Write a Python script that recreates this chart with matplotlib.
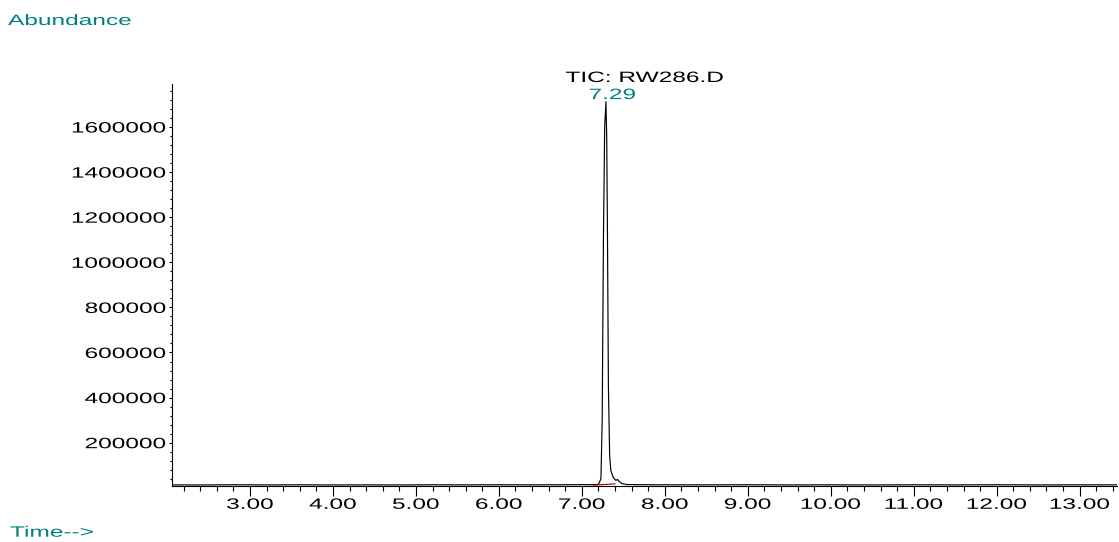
import matplotlib
matplotlib.use("Agg")
import matplotlib.pyplot as plt
from matplotlib.patheffects import AbstractPathEffect
from matplotlib.transforms import Affine2D
from matplotlib.ticker import MultipleLocator

# Total ion chromatogram: retention time (min) and abundance
rt = [2.06, 2.40, 2.80, 3.20, 3.60, 4.00, 4.40, 4.80, 5.20, 5.60, 6.00, 6.40,
      6.80, 7.00, 7.14, 7.20, 7.23, 7.245, 7.26, 7.275, 7.29, 7.30, 7.31,
      7.32, 7.335, 7.35, 7.38, 7.41, 7.43, 7.45, 7.48, 7.54, 7.70, 8.00, 8.50,
      9.00, 9.50, 10.00, 10.50, 11.00, 11.50, 12.00, 12.50, 13.00, 13.45]
abundance = [13000, 12500, 13500, 12800, 13200, 12600, 13000, 12700, 13300,
             12900, 13400, 13000, 13600, 13800, 14000, 15000, 40000, 300000,
             1100000, 1600000, 1712000, 1550000, 1050000, 450000, 140000,
             75000, 45000, 33000, 37000, 28000, 19000, 14500, 13800, 13200,
             13000, 13500, 12800, 13100, 12700, 13200, 12900, 13400, 12800,
             13100, 13000]

# Integration baseline under the main peak
int_rt = [7.14, 7.40]
int_abundance = [11500, 17500]

peak_rt = 7.29
peak_label = "7.29"
title = "TIC: RW286.D"

x_major = [3, 4, 5, 6, 7, 8, 9, 10, 11, 12, 13]
x_labels = ["3.00", "4.00", "5.00", "6.00", "7.00", "8.00", "9.00",
            "10.00", "11.00", "12.00", "13.00"]
y_major = [200000, 400000, 600000, 800000, 1000000, 1200000, 1400000, 1600000]
y_labels = ["200000", "400000", "600000", "800000", "1000000", "1200000",
            "1400000", "1600000"]

TEAL = "#008080"
FONT = "Liberation Sans"
FS = 10.8
WIDEN = 1.63


class WideText(AbstractPathEffect):
    """Draw glyph outlines widened horizontally about a chosen anchor."""

    def __init__(self, sx, anchor="left"):
        super().__init__()
        self.sx = sx
        self.anchor = anchor

    def draw_path(self, renderer, gc, tpath, affine, rgbFace=None):
        if len(tpath.vertices) == 0:
            return
        ext = tpath.get_extents()
        if self.anchor == "right":
            cx = ext.x1
        elif self.anchor == "center":
            cx = 0.5 * (ext.x0 + ext.x1)
        else:
            cx = 0.0
        widen = Affine2D().translate(-cx, 0).scale(self.sx, 1).translate(cx, 0)
        renderer.draw_path(gc, tpath, widen + affine, rgbFace)


def wide(anchor):
    return [WideText(WIDEN, anchor)]


W, H = 1119, 542
fig = plt.figure(figsize=(W / 100, H / 100), dpi=100)
ax = fig.add_axes([172 / W, 1 - 485.7 / H, (1117 - 172) / W, (485.7 - 84) / H])

ax.plot(rt, abundance, color="black", lw=0.85)
ax.plot(int_rt, int_abundance, color="#a00000", lw=0.8)

ax.set_xlim(2.06, 13.45)
ax.set_ylim(9300, 1790700)

for side in ("top", "right"):
    ax.spines[side].set_visible(False)
for side in ("left", "bottom"):
    ax.spines[side].set_linewidth(0.8)

ax.set_xticks(x_major, x_labels)
ax.set_yticks(y_major, y_labels)
ax.xaxis.set_minor_locator(MultipleLocator(0.2))
ax.yaxis.set_minor_locator(MultipleLocator(40000))

ax.tick_params(axis="x", which="major", direction="out", length=7.2, width=0.8,
               pad=1.5, labelsize=FS)
ax.tick_params(axis="x", which="minor", direction="out", length=3.6, width=0.8)
ax.tick_params(axis="y", which="major", direction="out", length=2.4, width=0.8,
               pad=1.5, labelsize=FS)
ax.tick_params(axis="y", which="minor", direction="out", length=1.2, width=0.8)

for lbl in ax.get_xticklabels():
    lbl.set_fontfamily(FONT)
    lbl.set_path_effects(wide("center"))
for lbl in ax.get_yticklabels():
    lbl.set_fontfamily(FONT)
    lbl.set_path_effects(wide("right"))

peak_value = abundance[rt.index(peak_rt)]
ax.annotate(peak_label, xy=(peak_rt, peak_value), xytext=(6.5, 2.7),
            textcoords="offset pixels", ha="center", va="baseline",
            color=TEAL, fontsize=FS, family=FONT,
            path_effects=wide("center"), annotation_clip=False)

ax.text(0.5, (485.7 - 82) / (485.7 - 84), title, transform=ax.transAxes,
        ha="center", va="baseline", color="black", fontsize=FS, family=FONT,
        path_effects=wide("center"))

fig.text(8 / W, 1 - 25 / H, "Abundance", ha="left", va="baseline",
         color=TEAL, fontsize=FS, family=FONT, path_effects=wide("left"))
fig.text(10 / W, 1 - 536.7 / H, "Time-->", ha="left", va="baseline",
         color=TEAL, fontsize=FS, family=FONT, path_effects=wide("left"))

fig.savefig("out.png", dpi=100)
